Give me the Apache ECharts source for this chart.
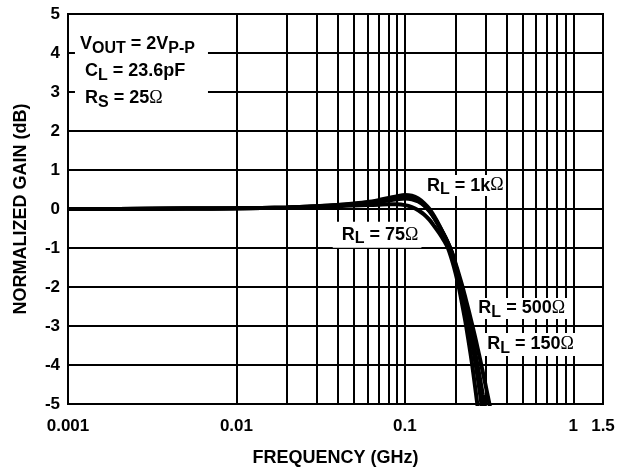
<!DOCTYPE html>
<html><head><meta charset="utf-8">
<script src="https://cdn.jsdelivr.net/npm/echarts@6/dist/echarts.min.js"></script>
<style>html,body{margin:0;padding:0;background:#fff}#c{width:631px;height:472px}</style>
</head><body><div id="c"></div>
<script>
// Frequency points (GHz)
const freq = [0.001,0.002,0.005,0.01,0.02,0.03,0.04,0.05,0.06,0.07,0.08,0.09,0.1,0.11,0.12,0.13,0.14,0.15,0.16,0.17,0.18,0.19,0.2,0.21,0.22,0.23,0.24,0.25,0.26,0.27,0.28,0.29,0.3,0.31,0.32,0.33,0.34];
// Normalized gain (dB) per load
const gain1k  = [0,0,0.01,0.02,0.04,0.07,0.1,0.14,0.18,0.23,0.28,0.33,0.36,0.34,0.27,0.15,0,-0.2,-0.42,-0.65,-0.87,-1.12,-1.45,-1.82,-2.2,-2.6,-3.0,-3.42,-3.85,-4.3,-4.77,-5.25,-5.7,-6.1,-6.5,-6.9,-7.3];
const gain500 = [0,0,0.01,0.02,0.04,0.07,0.1,0.13,0.16,0.2,0.24,0.28,0.3,0.28,0.21,0.1,-0.05,-0.24,-0.45,-0.66,-0.88,-1.13,-1.45,-1.78,-2.13,-2.5,-2.88,-3.25,-3.63,-4.0,-4.38,-4.75,-5.1,-5.45,-5.8,-6.15,-6.5];
const gain150 = [0,0,0.01,0.02,0.04,0.07,0.09,0.12,0.15,0.18,0.22,0.25,0.27,0.25,0.19,0.09,-0.06,-0.24,-0.44,-0.64,-0.86,-1.1,-1.4,-1.7,-2.0,-2.32,-2.63,-2.94,-3.25,-3.56,-3.87,-4.18,-4.48,-4.78,-5.08,-5.4,-5.7];
const gain75  = [0,0,0.01,0.02,0.03,0.05,0.07,0.09,0.1,0.11,0.12,0.12,0.1,0.05,-0.03,-0.14,-0.28,-0.45,-0.62,-0.8,-1.0,-1.3,-1.65,-2.05,-2.5,-2.95,-3.45,-3.95,-4.5,-5.05,-5.6,-6.1,-6.6,-7.1,-7.6,-8.1,-8.6];
// Axis ticks
const xTickValues = [0.001,0.01,0.1,1,1.5];
const xTickLabels = ['0.001','0.01','0.1','1','1.5'];
const minorGridFreqs = [0.002,0.003,0.004,0.005,0.006,0.007,0.008,0.009,0.02,0.03,0.04,0.05,0.06,0.07,0.08,0.09,0.2,0.3,0.4,0.5,0.6,0.7,0.8,0.9];
const yMin = -5, yMax = 5, yStep = 1;

const pair = g => freq.map((f,i)=>[f,g[i]]);
const F = 'Liberation Sans';
function makeRich(lh){
  return {
    m:{fontSize:18,fontWeight:'bold',color:'#000',fontFamily:F,lineHeight:lh},
    s:{fontSize:16,fontWeight:'bold',color:'#000',fontFamily:F,lineHeight:lh,padding:[8,0,0,0]},
    o:{fontSize:18,fontWeight:'normal',color:'#000',fontFamily:'Liberation Serif',lineHeight:lh}
  };
}
function note(coord, text, pad, lh, w, h){
  const lab = {show:true, position:[0,0], formatter:text, rich:makeRich(lh), backgroundColor:'#fff', padding:pad, lineHeight:lh, align:'left', verticalAlign:'top'};
  if (w) lab.width = w;
  if (h) lab.height = h;
  return {coord:coord, symbol:'rect', symbolSize:0, value:'', label:lab};
}
const curveStyle = {type:'line', showSymbol:false, symbol:'none', smooth:0.3, z:5, clip:true,
  lineStyle:{color:'#000', width:4}};

const chart = echarts.init(document.getElementById('c'));
chart.setOption({
  animation:false,
  backgroundColor:'#fff',
  textStyle:{fontFamily:F},
  grid:{left:68, right:28, top:14, bottom:68, show:true, borderColor:'#000', borderWidth:2},
  xAxis:{type:'log', logBase:10, min:0.001, max:1.5,
    name:'FREQUENCY (GHz)', nameLocation:'middle', nameGap:45,
    nameTextStyle:{fontSize:18, fontWeight:'bold', color:'#000'},
    axisLine:{lineStyle:{color:'#000', width:2}}, axisTick:{show:false},
    axisLabel:{fontSize:17, fontWeight:'bold', color:'#000', margin:14,
      formatter:v=>{for(let i=0;i<xTickValues.length;i++){if(Math.abs(Math.log10(v)-Math.log10(xTickValues[i]))<0.01)return xTickLabels[i];}return '';}},
    splitLine:{show:true, lineStyle:{color:'#000', width:2}}},
  yAxis:{type:'value', min:yMin, max:yMax, interval:yStep,
    name:'NORMALIZED GAIN (dB)', nameLocation:'middle', nameGap:38,
    nameTextStyle:{fontSize:18, fontWeight:'bold', color:'#000'},
    axisLine:{show:true, lineStyle:{color:'#000', width:2}}, axisTick:{show:false},
    axisLabel:{fontSize:17, fontWeight:'bold', color:'#000', margin:8},
    splitLine:{show:true, lineStyle:{color:'#000', width:2}}},
  series:[
    {type:'line', name:'grid', data:[], z:1, silent:true,
      markLine:{silent:true, symbol:'none', animation:false, label:{show:false},
        lineStyle:{color:'#000', width:2, type:'solid'},
        data:minorGridFreqs.map(f=>({xAxis:f}))}},
    {type:'line', name:'notes', data:[], z:4, silent:true,
      markPoint:{silent:true, animation:false,
        data:[
          note([0.00110,4.72], '{m|V}{s|OUT}{m| = 2V}{s|P-P}\n{m| C}{s|L}{m| = 23.6pF}\n{m| R}{s|S}{m| = 25}{o|Ω}', [6,4,4,5], 27, 124, 83),
          note([0.1315,0.87], '{m|R}{s|L}{m| = 1k}{o|Ω}', [0,2,0,2], 21),
          note([0.0373,-0.33], '{m|R}{s|L}{m| = 75}{o|Ω}', [2,3,2,9], 22),
          note([0.262,-2.28], '{m|R}{s|L}{m| = 500}{o|Ω}', [0,3,0,3], 21),
          note([0.296,-3.18], '{m|R}{s|L}{m| = 150}{o|Ω}', [1,3,1,3], 21)
        ]}},
    Object.assign({name:'RL=75', data:pair(gain75)}, curveStyle),
    Object.assign({name:'RL=150', data:pair(gain150)}, curveStyle),
    Object.assign({name:'RL=500', data:pair(gain500)}, curveStyle),
    Object.assign({name:'RL=1k', data:pair(gain1k)}, curveStyle)
  ]
});
</script></body></html>
